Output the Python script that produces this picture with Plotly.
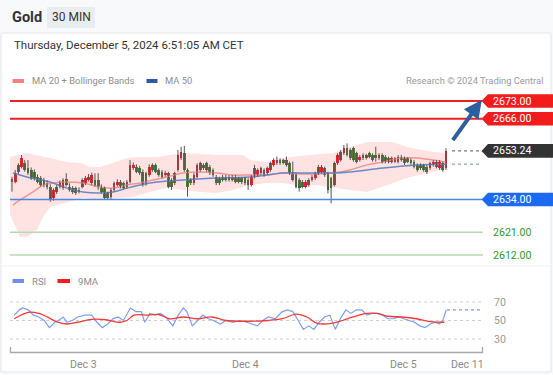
import plotly.graph_objects as go

# ---------------- data ----------------
candle_open = [
    2642.0, 2641.1, 2645.0, 2647.0, 2648.3, 2646.3, 2645.7, 2645.0, 2643.0, 2642.4,
    2641.7, 2640.4, 2639.1, 2634.5, 2637.1, 2639.1, 2638.4, 2639.7, 2639.1, 2638.4,
    2638.4, 2637.8, 2639.1, 2640.4, 2641.7, 2640.4, 2641.7, 2641.7, 2639.1, 2638.4,
    2636.4, 2635.1, 2637.8, 2639.7, 2641.1, 2640.4, 2639.1, 2641.1, 2646.3, 2647.0,
    2646.3, 2645.0, 2644.4, 2643.7, 2645.7, 2647.7, 2645.7, 2645.0, 2643.7, 2644.4,
    2641.7, 2640.4, 2645.7, 2650.3, 2652.3, 2645.7, 2641.7, 2640.4, 2643.0, 2645.7,
    2647.7, 2645.7, 2647.0, 2645.7, 2643.0, 2642.4, 2641.7, 2643.0, 2643.0, 2641.7,
    2643.0, 2642.4, 2642.4, 2642.4, 2641.7, 2639.7, 2643.0, 2643.7, 2644.4, 2645.7,
    2644.4, 2645.7, 2647.7, 2648.3, 2649.6, 2649.6, 2647.7, 2648.3, 2644.4, 2643.7,
    2641.7, 2641.1, 2639.1, 2639.7, 2641.7, 2642.4, 2644.4, 2645.0, 2646.3, 2644.4,
    2642.4, 2639.7, 2648.3, 2649.6, 2652.3, 2654.3, 2653.6, 2654.3, 2652.3, 2649.6,
    2650.3, 2650.3, 2652.3, 2651.6, 2651.6, 2650.3, 2651.6, 2651.0, 2650.3, 2649.0,
    2650.3, 2649.0, 2651.0, 2650.3, 2650.3, 2649.6, 2649.0, 2647.7, 2646.3, 2647.7,
    2647.0, 2646.3, 2647.7, 2649.0, 2646.3, 2648.3, 2646.3]
candle_close = [
    2641.1, 2644.4, 2647.7, 2650.3, 2645.7, 2644.4, 2642.4, 2642.4, 2641.1, 2639.7,
    2639.7, 2639.1, 2633.8, 2637.8, 2639.1, 2640.4, 2641.7, 2642.0, 2637.8, 2637.1,
    2636.4, 2637.1, 2641.7, 2642.4, 2643.0, 2643.7, 2639.7, 2639.1, 2637.1, 2634.5,
    2634.5, 2637.8, 2640.4, 2641.1, 2639.1, 2638.4, 2641.1, 2647.7, 2647.7, 2645.0,
    2644.4, 2639.7, 2640.4, 2647.0, 2647.7, 2645.0, 2643.7, 2643.0, 2644.6, 2639.1,
    2639.1, 2644.4, 2651.6, 2652.9, 2645.7, 2639.1, 2640.4, 2643.7, 2647.7, 2648.3,
    2646.3, 2648.3, 2644.4, 2643.7, 2640.4, 2640.4, 2643.0, 2641.7, 2641.7, 2643.0,
    2641.1, 2641.1, 2641.1, 2640.4, 2639.7, 2643.0, 2646.3, 2645.7, 2646.3, 2643.7,
    2646.3, 2648.3, 2649.6, 2649.6, 2648.3, 2648.3, 2649.6, 2644.4, 2641.7, 2639.1,
    2638.4, 2639.1, 2641.1, 2641.7, 2643.0, 2644.4, 2647.0, 2647.0, 2643.7, 2637.8,
    2638.4, 2648.3, 2651.6, 2652.9, 2654.3, 2651.6, 2650.3, 2649.6, 2649.0, 2651.0,
    2651.6, 2651.6, 2651.0, 2649.6, 2650.3, 2651.6, 2649.0, 2649.0, 2649.0, 2650.3,
    2649.0, 2651.0, 2649.6, 2648.3, 2649.0, 2648.3, 2647.0, 2645.7, 2647.7, 2645.7,
    2645.0, 2648.3, 2649.0, 2647.0, 2649.0, 2645.7, 2653.24]
candle_high = [
    2643.0, 2645.7, 2648.3, 2651.6, 2649.6, 2649.6, 2646.7, 2645.9, 2643.9, 2643.3,
    2642.6, 2641.5, 2640.0, 2638.4, 2639.7, 2641.5, 2642.4, 2644.4, 2640.4, 2639.3,
    2639.1, 2638.8, 2642.4, 2643.3, 2644.1, 2644.6, 2644.4, 2644.4, 2640.0, 2639.1,
    2637.1, 2638.4, 2641.1, 2642.0, 2641.7, 2641.1, 2641.7, 2649.6, 2648.6, 2647.9,
    2647.3, 2645.9, 2645.0, 2647.9, 2648.3, 2648.3, 2646.3, 2645.7, 2645.4, 2645.0,
    2642.4, 2645.0, 2653.6, 2654.9, 2655.2, 2646.3, 2642.4, 2644.4, 2648.3, 2649.0,
    2648.3, 2649.0, 2647.7, 2646.3, 2643.7, 2643.0, 2643.7, 2643.7, 2643.6, 2643.7,
    2643.7, 2643.0, 2643.0, 2643.0, 2642.4, 2643.7, 2647.7, 2646.3, 2647.0, 2646.3,
    2647.0, 2649.0, 2650.3, 2651.0, 2650.3, 2650.1, 2651.0, 2649.0, 2649.0, 2644.4,
    2642.4, 2641.7, 2641.7, 2642.4, 2643.7, 2645.0, 2647.7, 2647.7, 2647.0, 2645.0,
    2643.0, 2649.0, 2652.3, 2653.6, 2655.6, 2656.2, 2654.3, 2654.9, 2652.9, 2651.6,
    2652.3, 2652.1, 2652.9, 2652.3, 2654.9, 2652.3, 2652.3, 2651.6, 2651.0, 2651.0,
    2650.8, 2651.6, 2651.6, 2651.0, 2650.8, 2650.3, 2649.6, 2648.3, 2648.3, 2648.1,
    2647.7, 2649.0, 2649.6, 2649.6, 2649.6, 2649.0, 2654.3]
candle_low = [
    2637.1, 2640.4, 2644.1, 2646.3, 2645.0, 2643.7, 2641.7, 2641.5, 2640.4, 2639.1,
    2638.8, 2638.0, 2633.1, 2633.5, 2636.2, 2638.4, 2637.8, 2639.1, 2637.1, 2636.2,
    2635.8, 2636.4, 2638.4, 2639.7, 2641.1, 2639.7, 2639.1, 2637.8, 2636.4, 2633.8,
    2633.8, 2634.2, 2637.1, 2639.1, 2638.4, 2637.8, 2638.3, 2640.4, 2645.7, 2644.4,
    2643.7, 2639.1, 2639.5, 2643.0, 2645.0, 2644.4, 2643.0, 2642.4, 2643.0, 2638.4,
    2637.8, 2639.7, 2645.0, 2649.6, 2645.0, 2635.1, 2639.7, 2639.7, 2642.4, 2645.0,
    2645.7, 2645.0, 2643.7, 2643.0, 2639.7, 2639.7, 2641.1, 2641.1, 2641.1, 2641.1,
    2640.4, 2640.4, 2640.1, 2639.7, 2637.8, 2639.1, 2642.4, 2643.0, 2643.7, 2643.0,
    2643.7, 2645.0, 2647.0, 2647.7, 2647.7, 2647.9, 2647.0, 2643.7, 2641.1, 2638.4,
    2637.1, 2638.4, 2638.4, 2639.1, 2641.1, 2641.7, 2643.7, 2644.4, 2643.0, 2636.4,
    2632.5, 2639.1, 2647.7, 2649.0, 2651.6, 2651.0, 2649.6, 2649.0, 2648.3, 2649.0,
    2649.6, 2649.8, 2650.3, 2649.0, 2649.0, 2649.6, 2648.3, 2648.3, 2648.3, 2648.3,
    2648.5, 2648.3, 2649.0, 2647.7, 2648.4, 2647.7, 2646.3, 2645.0, 2645.7, 2645.0,
    2644.1, 2645.7, 2647.0, 2646.3, 2645.7, 2645.0, 2645.7]

# indicator samples (x = candle index position)
ma20_x = [0.3, 2.5, 6.6, 9.7, 12.8, 17.2, 22.2, 27.6, 31.7, 36.0, 40.1, 44.2, 48.6, 53.6, 58.9,
          64.2, 69.3, 74.6, 79.9, 84.9, 90.3, 100.6, 105.9, 111.3, 116.3, 121.6, 126.9, 131.9, 136.0]
ma20 = [2631.8, 2633.8, 2637.0, 2639.7, 2640.5, 2640.9, 2640.5, 2638.9, 2638.5, 2639.7, 2640.5,
        2641.7, 2642.9, 2644.5, 2644.9, 2644.5, 2643.7, 2643.7, 2643.7, 2644.5, 2644.1, 2644.5,
        2645.7, 2647.7, 2648.8, 2650.4, 2650.4, 2649.6, 2648.8]
boll_upper_x = [-0.6, 4.7, 11.9, 17.2, 21.3, 24.4, 27.6, 31.7, 36.0, 40.1, 45.4, 53.6, 64.2, 72.4,
                74.6, 79.9, 84.9, 90.3, 100.6, 105.9, 111.3, 119.4, 123.8, 131.9, 136.3]
boll_upper = [2650.8, 2652.4, 2650.4, 2648.8, 2648.4, 2646.9, 2646.9, 2648.4, 2650.4, 2650.8,
              2650.8, 2652.4, 2651.6, 2651.6, 2649.6, 2648.8, 2650.4, 2651.2, 2652.4, 2654.8,
              2656.8, 2656.8, 2654.8, 2652.8, 2652.4]
boll_lower_x = [-0.6, 2.5, 4.7, 7.8, 9.7, 11.9, 17.2, 22.2, 27.6, 32.9, 37.9, 43.2, 48.6, 53.6,
                58.9, 64.2, 69.3, 74.6, 79.9, 84.9, 90.3, 95.6, 100.6, 105.9, 111.3, 114.4,
                119.4, 124.7, 131.9, 136.3]
boll_lower = [2628.0, 2619.1, 2619.1, 2621.9, 2627.1, 2631.0, 2633.0, 2634.6, 2633.8, 2634.6,
              2635.0, 2637.0, 2638.5, 2637.8, 2637.0, 2636.6, 2637.8, 2639.7, 2640.5, 2640.5,
              2639.3, 2639.7, 2638.9, 2637.8, 2637.0, 2638.5, 2640.5, 2642.9, 2644.9, 2646.5]
ma50_x = [0.3, 4.7, 11.9, 17.2, 22.2, 27.6, 31.7, 36.0, 40.1, 45.4, 53.6, 64.2, 74.6, 84.9, 90.3,
          100.6, 105.9, 116.3, 126.9, 136.3]
ma50 = [2644.5, 2642.9, 2640.9, 2638.5, 2637.0, 2636.6, 2637.0, 2638.5, 2639.7, 2640.9, 2641.7,
        2642.5, 2642.9, 2644.5, 2644.5, 2644.5, 2644.9, 2646.5, 2647.7, 2648.0]

rsi_x = [0.7, 2.3, 3.4, 5.1, 6.7, 8.4, 10.1, 11.7, 13.4, 14.5, 16.1, 17.2, 18.9, 20.6, 22.8, 25.0,
         26.6, 28.3, 30.0, 31.6, 33.3, 34.9, 37.1, 38.8, 40.5, 41.6, 43.2, 44.9, 46.5, 48.2, 50.4,
         52.1, 53.7, 54.8, 56.5, 58.1, 59.8, 61.5, 63.1, 65.3, 67.0, 69.2, 71.4, 73.6, 75.3, 76.9,
         78.6, 80.3, 82.5, 84.7, 86.3, 88.0, 89.7, 91.3, 93.0, 94.6, 96.3, 97.9, 99.6, 101.3,
         102.9, 104.6, 106.2, 107.9, 109.6, 111.2, 112.9, 114.5, 116.2, 117.8, 119.5, 121.2,
         122.8, 124.5, 126.1, 127.8, 129.4, 131.1, 132.7, 133.9, 135.0, 136.1]
rsi = [55.8, 61.5, 63.5, 61.5, 55.8, 53.8, 50.0, 42.3, 48.1, 50.0, 53.8, 48.1, 50.0, 53.8, 55.8,
       55.8, 48.1, 42.3, 46.2, 51.9, 53.8, 50.0, 63.5, 59.6, 59.6, 48.1, 57.7, 55.8, 57.7, 53.8,
       44.2, 55.8, 63.5, 59.6, 44.2, 50.0, 55.8, 51.9, 50.0, 46.2, 50.0, 48.1, 50.0, 48.1, 46.2,
       44.2, 50.0, 53.8, 51.9, 59.6, 61.5, 59.6, 50.0, 40.4, 44.2, 40.4, 48.1, 53.8, 55.8, 40.4,
       51.9, 61.5, 57.7, 61.5, 61.5, 55.8, 57.7, 57.7, 55.8, 51.9, 51.9, 53.8, 51.9, 50.0, 48.1,
       44.2, 42.3, 46.2, 48.1, 46.2, 50.0, 61.5]
rsi_ma9_x = [0.7, 5.1, 8.4, 10.6, 13.9, 17.2, 20.6, 25.0, 29.4, 33.8, 36.0, 38.2, 42.7, 46.0, 49.3,
             53.7, 58.1, 62.6, 67.0, 73.6, 80.3, 84.7, 89.1, 92.4, 95.7, 100.2, 103.5, 106.8,
             111.2, 114.5, 117.8, 122.3, 126.7, 131.1, 135.5]
rsi_ma9 = [51.9, 58.8, 57.7, 54.6, 48.8, 46.2, 48.1, 51.2, 50.8, 48.1, 50.0, 55.8, 55.8, 56.5, 51.9,
           53.8, 51.9, 53.8, 50.0, 49.2, 50.0, 51.9, 56.9, 53.8, 46.9, 46.9, 50.0, 53.8, 57.7,
           57.7, 54.6, 53.8, 51.9, 48.8, 48.1]

resistance_levels = [2673.00, 2666.00]
support_levels = [2634.00]
minor_support_levels = [2621.00, 2612.00]
rsi_levels = [70, 50, 30]
tick_idx = [22.5, 73.2, 122.7, 142.6]
tick_labels = ["Dec 3", "Dec 4", "Dec 5", "Dec 11"]
target_level = 2673.00

# ---------------- layout helpers ----------------
W, H = 553, 375
FONT = "Roboto"


def px(x):
    return x / W


def py(y):
    return 1 - y / H


X_RANGE = [-0.627, 147.6]
X_DOMAIN = [px(10), px(483)]
Y_MAIN_RANGE = [2608.45, 2678.15]
Y_MAIN_DOMAIN = [py(264), py(88)]
Y_RSI_RANGE = [23.51, 77.57]
Y_RSI_DOMAIN = [py(345), py(295)]
PRICE_PER_PX = (Y_MAIN_RANGE[1] - Y_MAIN_RANGE[0]) / (264 - 88)

UP = "#e0141c"
DOWN = "#287a28"

fig = go.Figure()

# Bollinger band fill
fig.add_trace(go.Scatter(
    x=boll_upper_x + boll_lower_x[::-1], y=boll_upper + boll_lower[::-1],
    fill="toself", fillcolor="rgba(255,110,110,0.2)", line=dict(width=0),
    mode="lines", hoverinfo="skip", xaxis="x", yaxis="y"))
fig.add_trace(go.Scatter(x=ma20_x, y=ma20, mode="lines", line=dict(color="#f59494", width=1.5, shape="spline"),
                         xaxis="x", yaxis="y"))
fig.add_trace(go.Scatter(x=ma50_x, y=ma50, mode="lines", line=dict(color="#6a8ac6", width=1.5, shape="spline"),
                         xaxis="x", yaxis="y"))

# candles: wicks + bodies
n = len(candle_close)
idx = list(range(n))
wx, wy = [], []
for i in idx:
    wx += [i, i, None]
    wy += [candle_low[i], candle_high[i], None]
fig.add_trace(go.Scatter(x=wx, y=wy, mode="lines", line=dict(color="#555555", width=1),
                         hoverinfo="skip", xaxis="x", yaxis="y"))
body_base = [min(o, c) for o, c in zip(candle_open, candle_close)]
body_h = [max(abs(c - o), 0.35) for o, c in zip(candle_open, candle_close)]
body_col = [UP if c >= o else DOWN for o, c in zip(candle_open, candle_close)]
fig.add_trace(go.Bar(x=idx, y=body_h, base=body_base, width=0.85, marker=dict(color=body_col, line=dict(width=0)),
                     xaxis="x", yaxis="y"))

# RSI panel
fig.add_trace(go.Scatter(x=rsi_x, y=rsi, mode="lines", line=dict(color="#7d9ef0", width=1.2),
                         xaxis="x2", yaxis="y2"))
fig.add_trace(go.Scatter(x=rsi_ma9_x, y=rsi_ma9, mode="lines", line=dict(color="#f03a3a", width=1.3, shape="spline"),
                         xaxis="x2", yaxis="y2"))

shapes = []
# page panels
shapes.append(dict(type="rect", xref="paper", yref="paper", x0=px(1), x1=px(551), y0=py(372), y1=py(33),
                   fillcolor="white", line=dict(color="#e4e7ea", width=1), layer="below"))
shapes.append(dict(type="line", xref="paper", yref="paper", x0=px(1), x1=px(551), y0=py(266), y1=py(266),
                   line=dict(color="#eef0f2", width=1), layer="below"))
shapes.append(dict(type="rect", xref="paper", yref="paper", x0=px(47), x1=px(95), y0=py(28), y1=py(7),
                   fillcolor="#eaedf0", line=dict(width=0), layer="below"))
# legend swatches
shapes.append(dict(type="rect", xref="paper", yref="paper", x0=px(12.5), x1=px(24), y0=py(83), y1=py(79),
                   fillcolor="#f77f7f", line=dict(width=0)))
shapes.append(dict(type="rect", xref="paper", yref="paper", x0=px(146.5), x1=px(157.5), y0=py(83), y1=py(79),
                   fillcolor="#2d5b9e", line=dict(width=0)))
shapes.append(dict(type="rect", xref="paper", yref="paper", x0=px(12.5), x1=px(24), y0=py(283), y1=py(279),
                   fillcolor="#6f8fe8", line=dict(width=0)))
shapes.append(dict(type="rect", xref="paper", yref="paper", x0=px(57.5), x1=px(70), y0=py(283), y1=py(279),
                   fillcolor="#f01e1e", line=dict(width=0)))

# level lines
for lv in resistance_levels:
    shapes.append(dict(type="line", xref="paper", yref="y", x0=px(10), x1=px(482), y0=lv, y1=lv,
                       line=dict(color="#f02020", width=2)))
for lv in support_levels:
    shapes.append(dict(type="line", xref="paper", yref="y", x0=px(10), x1=px(482), y0=lv, y1=lv,
                       line=dict(color="#4a86e6", width=1.5)))
for lv in minor_support_levels:
    shapes.append(dict(type="line", xref="paper", yref="y", x0=px(10), x1=px(483), y0=lv, y1=lv,
                       line=dict(color="#b4dcae", width=1.5)))

# dotted extensions of last price and MA50
last_price = candle_close[-1]
shapes.append(dict(type="line", xref="paper", yref="y", x0=px(452), x1=px(482), y0=last_price, y1=last_price,
                   line=dict(color="#555", width=1, dash="dot")))
shapes.append(dict(type="line", xref="paper", yref="y", x0=px(452), x1=px(482), y0=ma50[-1], y1=ma50[-1],
                   line=dict(color="#6d8cc6", width=1, dash="dot")))


def tag(level, color):
    half = 6.8 * PRICE_PER_PX
    x0, x1, x2 = px(481.5), px(488), px(553)
    path = (f"M {x0},{level} L {x1},{level + half} L {x2},{level + half} "
            f"L {x2},{level - half} L {x1},{level - half} Z")
    return dict(type="path", xref="paper", yref="y", path=path, fillcolor=color, line=dict(width=0))


for lv in resistance_levels:
    shapes.append(tag(lv, "#f21c1c"))
shapes.append(tag(last_price, "#333333"))
for lv in support_levels:
    shapes.append(tag(lv, "#1d6af2"))

# RSI grid + extension
for lv in rsi_levels:
    shapes.append(dict(type="line", xref="paper", yref="y2", x0=px(10), x1=px(483), y0=lv, y1=lv,
                       line=dict(color="#cfcfcf", width=1, dash="dot"), layer="below"))
shapes.append(dict(type="line", xref="paper", yref="y2", x0=px(447), x1=px(483), y0=rsi[-1], y1=rsi[-1],
                   line=dict(color="#7d9ef0", width=1.2, dash="dot")))
# x-axis bracket
shapes.append(dict(type="path", xref="paper", yref="paper",
                   path=f"M {px(10.5)},{py(347)} L {px(10.5)},{py(352.5)} L {px(482.5)},{py(352.5)} L {px(482.5)},{py(347)}",
                   line=dict(color="#a8a8a8", width=1.3)))

ann = []


def text(x, y, s, size, color, anchor="left", bold=False):
    ann.append(dict(xref="paper", yref="paper", x=px(x), y=py(y), text=f"<b>{s}</b>" if bold else s,
                    showarrow=False, xanchor=anchor, yanchor="middle",
                    font=dict(family=FONT, size=size, color=color)))


text(9.5, 17.5, "Gold", 14.5, "#333", bold=True)
text(71, 17.5, "30 MIN", 12, "#333", anchor="center")
text(11.5, 45, "Thursday, December 5, 2024 6:51:05 AM CET", 11.5, "#333")
text(29.5, 81, "MA 20 + Bollinger Bands", 9.4, "#8c8c8c")
text(162.5, 81, "MA 50", 9.4, "#8c8c8c")
text(545, 81, "Research © 2024 Trading Central", 9.4, "#9a9a9a", anchor="right")
text(29.5, 281, "RSI", 9.6, "#8c8c8c")
text(75.5, 281, "9MA", 9.6, "#8c8c8c")

for lv in resistance_levels + support_levels + [last_price]:
    ann.append(dict(xref="paper", yref="y", x=px(491), y=lv, text=f"{lv:.2f}", showarrow=False,
                    xanchor="left", yanchor="middle", font=dict(family=FONT, size=10.6, color="white")))
for lv in minor_support_levels:
    ann.append(dict(xref="paper", yref="y", x=px(491), y=lv, text=f"{lv:.2f}", showarrow=False,
                    xanchor="left", yanchor="middle", font=dict(family=FONT, size=10.6, color="#2f9a2f")))
for lv in rsi_levels:
    ann.append(dict(xref="paper", yref="y2", x=px(492), y=lv, text=str(lv), showarrow=False,
                    xanchor="left", yanchor="middle", font=dict(family=FONT, size=10.6, color="#999")))
for ti, tl in zip(tick_idx, tick_labels):
    ann.append(dict(xref="x2", yref="paper", x=ti, y=py(364.5), text=tl, showarrow=False,
                    xanchor="center", yanchor="middle", font=dict(family=FONT, size=10.6, color="#8a8a8a")))

# target arrow
ann.append(dict(xref="x", yref="y", axref="x", ayref="y", x=147.2, y=target_level + 0.4,
                ax=n + 0.8, ay=2656.9, text="", showarrow=True, arrowhead=2, arrowsize=0.9,
                arrowwidth=4, arrowcolor="#2c5f9f", standoff=0))

fig.update_layout(
    width=W, height=H, margin=dict(l=0, r=0, t=0, b=0),
    paper_bgcolor="#f8f9fa", plot_bgcolor="rgba(0,0,0,0)",
    showlegend=False, barmode="overlay", bargap=0,
    shapes=shapes, annotations=ann, hovermode=False,
    xaxis=dict(domain=X_DOMAIN, range=X_RANGE, visible=False, anchor="y"),
    yaxis=dict(domain=Y_MAIN_DOMAIN, range=Y_MAIN_RANGE, visible=False, anchor="x"),
    xaxis2=dict(domain=X_DOMAIN, range=X_RANGE, visible=False, anchor="y2"),
    yaxis2=dict(domain=Y_RSI_DOMAIN, range=Y_RSI_RANGE, visible=False, anchor="x2"),
)

fig.write_html("out.html", config=dict(displayModeBar=False),
               post_script="document.body.style.margin='0';document.body.style.overflow='hidden';")
